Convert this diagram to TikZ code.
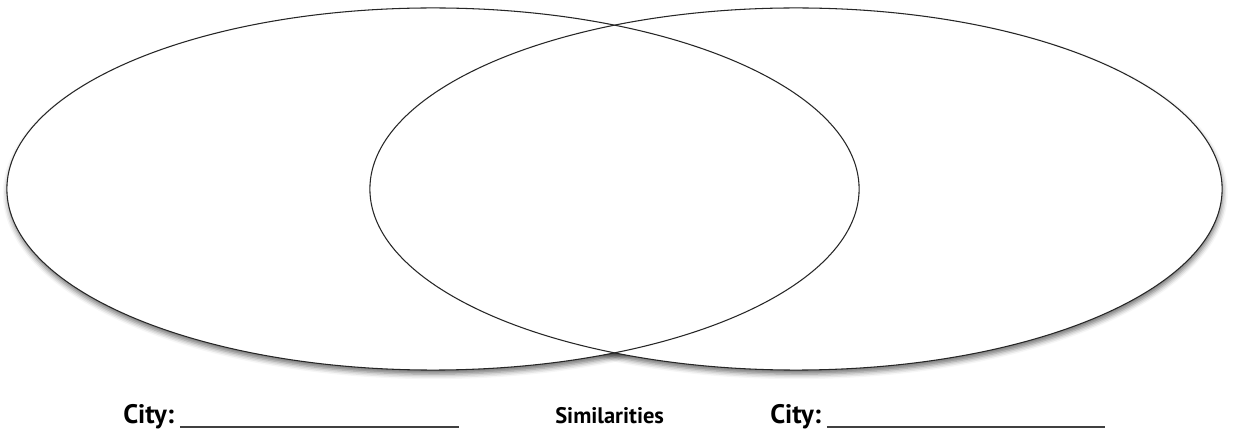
\documentclass[tikz,border=0pt]{standalone}
\usepackage{fontspec}
\setmainfont{PT Sans}
\usetikzlibrary{positioning, shapes.geometric, shadows.blur}

\begin{document}
\begin{tikzpicture}[
  x=0.025cm, y=0.025cm,
  venn/.style={ellipse, draw=black!85, line width=0.75pt, minimum width=21.3cm,
               minimum height=9.05cm, inner sep=0pt},
  soft/.style={blur shadow={shadow xshift=0.5pt, shadow yshift=-3pt,
               shadow blur radius=3.5pt, shadow opacity=55}},
  lbl/.style={font=\bfseries\fontsize{19}{22}\selectfont, inner sep=0pt, anchor=base west},
  sim/.style={font=\bfseries\fontsize{16}{19}\selectfont, inner sep=0pt, anchor=base west},
  blank/.style={draw=black!75, line width=0.75pt},
]
  \useasboundingbox (0,0) rectangle (1234,434);

  % soft shadow under both ovals, then white inside
  \path[soft] (433,245) ellipse [x radius=426, y radius=181];
  \path[soft] (796,245) ellipse [x radius=426, y radius=181];
  \fill[white] (433,245) ellipse [x radius=426, y radius=181]
               (796,245) ellipse [x radius=426, y radius=181];

  \node[venn] (cityA) at (433,245) {};
  \node[venn] (cityB) at (796,245) {};

  \node[lbl] (nameA) at (123,11) {City:};
  \coordinate (endA) at (459,7);
  \draw[blank] ([xshift=4pt]nameA.east |- endA) -- (endA);

  \node[sim] (same) at (555,11) {Similarities};

  \node[lbl] (nameB) at (770,11) {City:};
  \coordinate (endB) at (1105,7);
  \draw[blank] ([xshift=4pt]nameB.east |- endB) -- (endB);
\end{tikzpicture}
\end{document}
